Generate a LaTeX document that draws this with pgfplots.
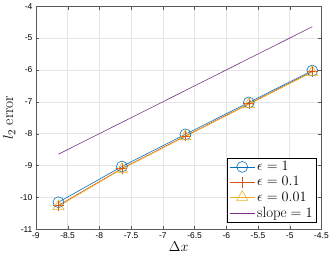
\documentclass[border=0pt]{standalone}
\usepackage{fontspec}
\usepackage{pgfplots}
\pgfplotsset{compat=1.18}
\newfontfamily\tickfont{Liberation Sans}
\definecolor{mblue}{rgb}{0,0.447,0.741}
\definecolor{morange}{rgb}{0.85,0.325,0.098}
\definecolor{myellow}{rgb}{0.929,0.694,0.125}
\definecolor{mpurple}{rgb}{0.494,0.184,0.556}
\begin{document}
\begin{tikzpicture}
\begin{axis}[
  width=288pt, height=225pt, scale only axis,
  xmin=-9, xmax=-4.5, ymin=-11, ymax=-4,
  xtick={-9,-8.5,...,-4.5}, ytick={-11,-10,...,-4},
  tick align=inside, tick pos=both,
  major tick length=3.5pt,
  grid=major, grid style={gray!20, line width=0.5pt},
  axis line style={gray!70!black, line width=0.6pt},
  tick style={gray!70!black},
  ticklabel style={font=\tickfont\fontsize{8.5}{9}\selectfont},
  /pgf/number format/assume math mode=true,
  xlabel={$\Delta x$}, ylabel={$l_2$ error},
  label style={font=\fontsize{15.5}{16}\selectfont},
  xlabel style={yshift=4pt}, ylabel style={yshift=-2pt},
  legend style={font=\fontsize{15}{16}\selectfont, draw=black, line width=0.6pt, inner sep=1.5pt, row sep=0.5pt, at={(0.982,0.03)}, anchor=south east},
  legend cell align=left,
  legend image code/.code={\draw[mark repeat=2,mark phase=2,#1] plot coordinates {(0cm,0cm) (0.45cm,0cm) (0.9cm,0cm)};},
]
\addplot[mblue, line width=0.6pt, mark=o, mark size=5.5pt] coordinates {
(-8.644,-10.15) (-7.644,-9.03) (-6.644,-8.02) (-5.644,-7.02) (-4.644,-6.02)};
\addlegendentry{$\epsilon=1$}
\addplot[morange, line width=0.6pt, mark=+, mark size=5.5pt] coordinates {
(-8.644,-10.25) (-7.644,-9.09) (-6.644,-8.07) (-5.644,-7.06) (-4.644,-6.05)};
\addlegendentry{$\epsilon=0.1$}
\addplot[myellow, line width=0.6pt, mark=triangle, mark size=6.5pt] coordinates {
(-8.644,-10.28) (-7.644,-9.11) (-6.644,-8.09) (-5.644,-7.08) (-4.644,-6.07)};
\addlegendentry{$\epsilon=0.01$}
\addplot[mpurple, line width=0.6pt] coordinates {(-8.644,-8.644) (-4.644,-4.644)};
\addlegendentry{$\mathrm{slope}=1$}
\end{axis}
\end{tikzpicture}
\end{document}
